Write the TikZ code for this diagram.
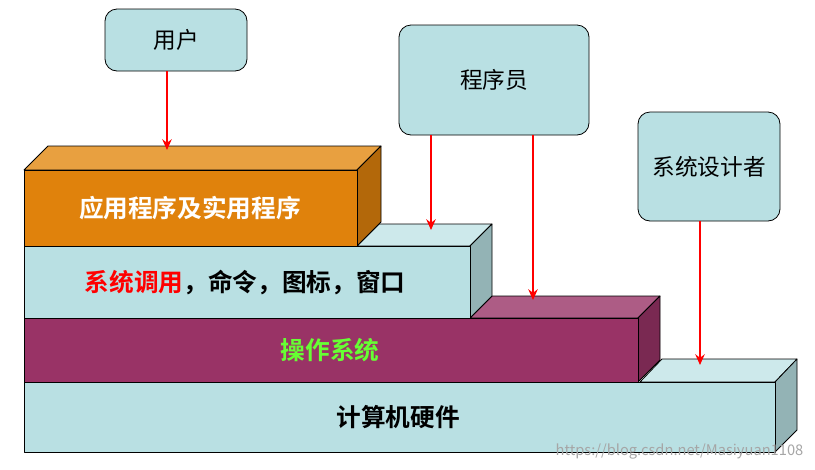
\documentclass[tikz,border=0pt]{standalone}
\usepackage{fontspec}
\setmainfont{Noto Sans CJK SC}
\newfontfamily\cjkb{Noto Sans CJK SC Bold}
\begin{document}
\begin{tikzpicture}[x=0.75pt,y=-0.75pt,line join=round,
  face/.style={draw=black,line width=0.6pt},
  person/.style={draw=black,fill=cyanL,rounded corners=9pt,line width=0.6pt,font=\fontsize{17}{19}\selectfont},
  arr/.style={red,line width=1.6pt,-{Stealth[length=8pt,width=7pt]}}]
\usetikzlibrary{arrows.meta}
\definecolor{cyanL}{HTML}{B9E0E3}
\definecolor{cyanT}{HTML}{CDE9EB}
\definecolor{cyanS}{HTML}{93B3B5}
\definecolor{osF}{HTML}{993366}
\definecolor{osT}{HTML}{AD5C85}
\definecolor{osS}{HTML}{7A2952}
\definecolor{apF}{HTML}{E0820C}
\definecolor{apT}{HTML}{E8A040}
\definecolor{apS}{HTML}{B3680A}
\definecolor{grn}{HTML}{66FF33}
\useasboundingbox (0,0) rectangle (815,469);
\fill[white] (0,0) rectangle (815,469);
\filldraw[face,fill=cyanT] (640,382)--(775,382)--(797,359)--(662,359)--cycle;
\filldraw[face,fill=cyanS] (775,382)--(797,359)--(797,430)--(775,452)--cycle;
\filldraw[face,fill=cyanL] (24,382) rectangle (775,452);
\filldraw[face,fill=osT] (470,318)--(638,318)--(660,296)--(492,296)--cycle;
\filldraw[face,fill=osS] (638,318)--(660,296)--(660,360)--(638,382)--cycle;
\filldraw[face,fill=osF] (24,318) rectangle (638,382);
\filldraw[face,fill=cyanT] (357,246)--(470,246)--(492,224)--(379,224)--cycle;
\filldraw[face,fill=cyanS] (470,246)--(492,224)--(492,296)--(470,318)--cycle;
\filldraw[face,fill=cyanL] (24,246) rectangle (470,318);
\filldraw[face,fill=apT] (24,170)--(357,170)--(381,146)--(48,146)--cycle;
\filldraw[face,fill=apS] (357,170)--(381,146)--(381,222)--(357,246)--cycle;
\filldraw[face,fill=apF] (24,170) rectangle (357,246);
\node[white,font=\cjkb\fontsize{18.5}{20}\selectfont] (la) at (190,208) {应用程序及实用程序};
\node[font=\cjkb\fontsize{18.5}{20}\selectfont] (lb) at (245,283) {\textcolor{red}{系统调用}，命令，图标，窗口};
\node[grn,font=\cjkb\fontsize{18.5}{20}\selectfont] (lc) at (330,350) {操作系统};
\node[font=\cjkb\fontsize{18.5}{20}\selectfont] (ld) at (398,417) {计算机硬件};
\node[person,minimum width=142*0.75pt,minimum height=62*0.75pt] (u) at (176,40) {用户};
\node[person,minimum width=190*0.75pt,minimum height=110*0.75pt] (p) at (494,80) {程序员};
\node[person,minimum width=142*0.75pt,minimum height=109*0.75pt] (s) at (709,166.5) {系统设计者};
\coordinate (a1) at (167,150);
\coordinate (a2) at (431,230);
\coordinate (a3) at (533,300);
\coordinate (a4) at (700,365);
\draw[arr] (u.south -| a1) -- (a1);
\draw[arr] (p.south -| a2) -- (a2);
\draw[arr] (p.south -| a3) -- (a3);
\draw[arr] (s.south -| a4) -- (a4);
\node[gray!70,font=\fontsize{11}{12}\selectfont,anchor=east] (wm) at (808,451) {https://blog.csdn.net/Masiyuan1108};
\end{tikzpicture}
\end{document}
